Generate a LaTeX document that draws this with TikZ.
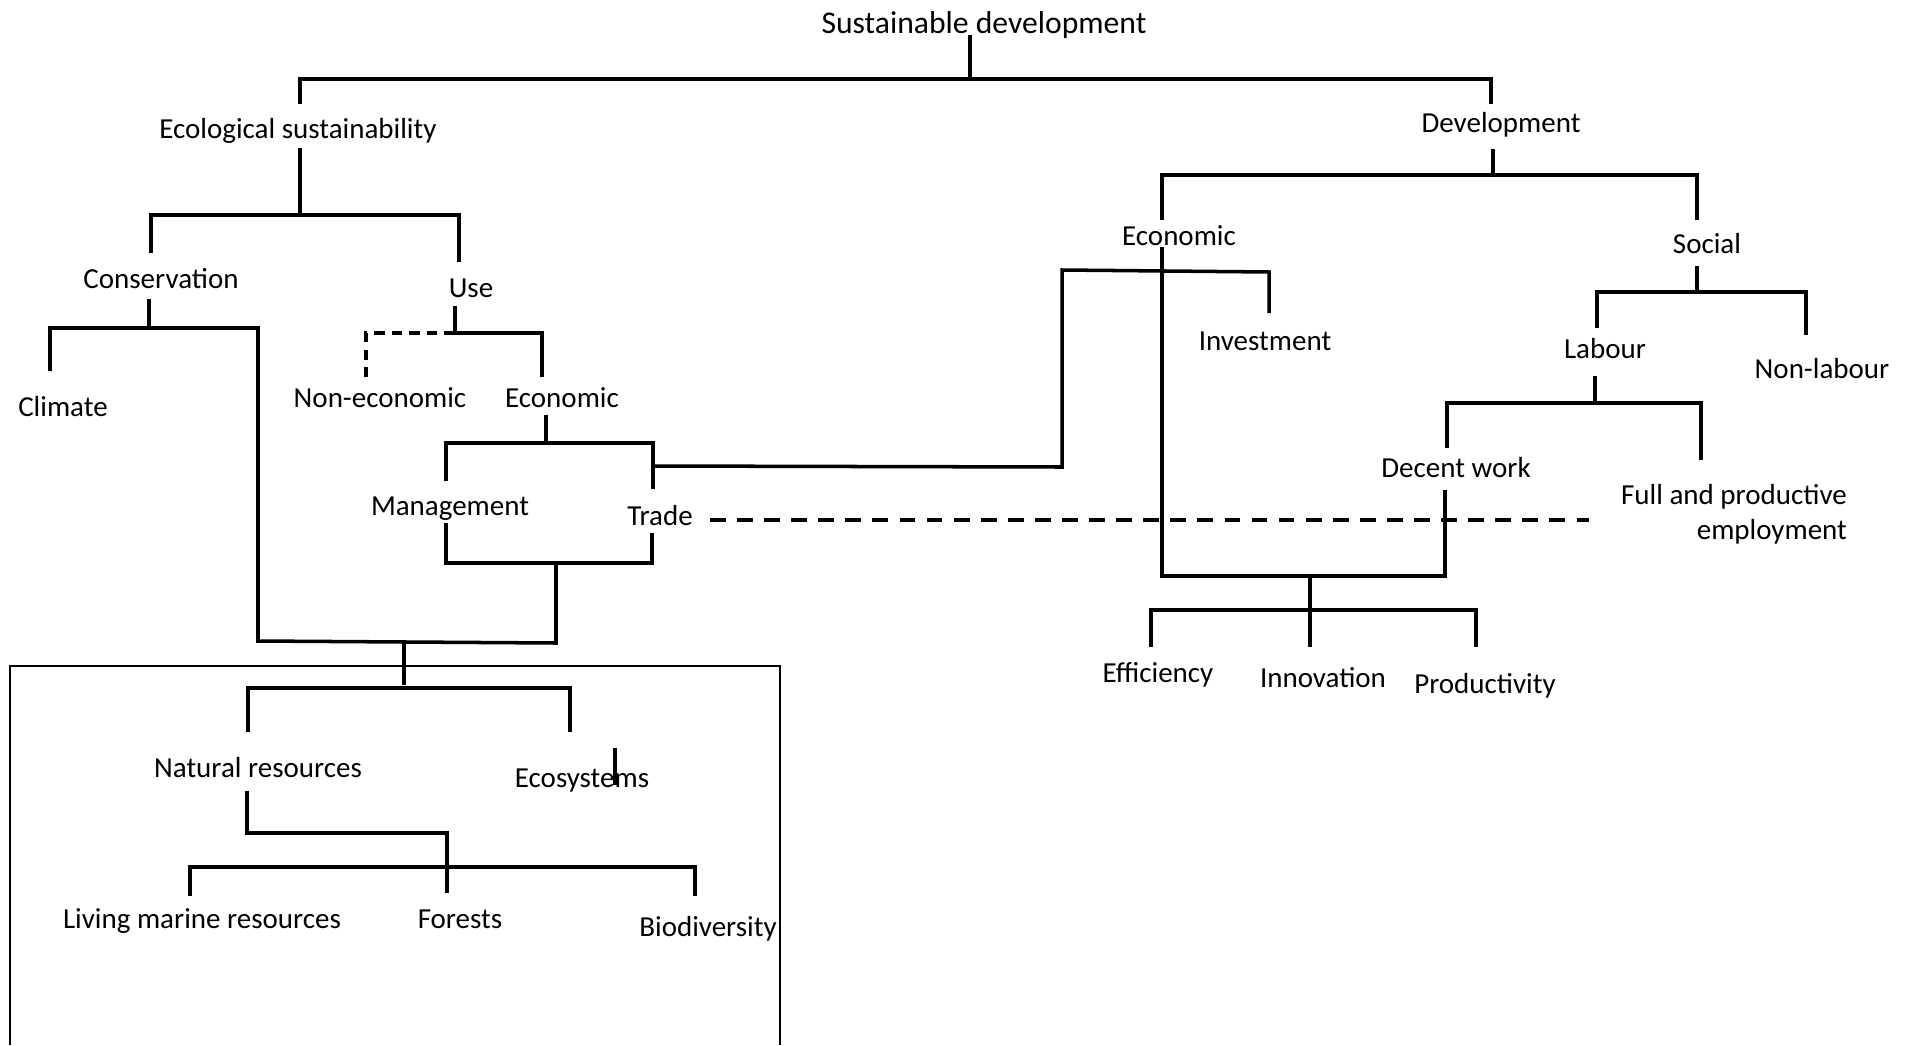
\documentclass[tikz,border=0pt]{standalone}
\usepackage{fontspec}
\setmainfont{Carlito}
\usepackage{tikz}

\begin{document}
\begin{tikzpicture}[x=0.01cm,y=-0.01cm,
    lbl/.style={inner sep=0pt,text height=1.5ex,text depth=.25ex,font=\fontsize{8.25}{10}\selectfont},
    link/.style={line width=1pt},
    dashlink/.style={line width=1pt,dash pattern=on 4.5pt off 3.2pt}]
        \useasboundingbox (0,0) rectangle (1909,1045);
        \node[lbl,font=\fontsize{9}{10}\selectfont] (root) at (984,23) {Sustainable development};
        \foreach \n/\x/\y/\t in {eco/298/128/Ecological sustainability, dev/1501/122/Development,
            cons/161/278/Conservation, use/471/287/Use, clim/63/406/Climate,
            noneco/380/397/Non-economic, ecoL/562/397/Economic, mgmt/450/505/Management,
            trade/660/515/Trade, natres/258/767/Natural resources, ecosys/582/777/Ecosystems,
            living/202/918/Living marine resources, forests/460/918/Forests, biodiv/708/926/Biodiversity,
            ecoR/1179/235/Economic, social/1707/243/Social, invest/1265/340/Investment,
            labour/1605/348/Labour, nonlab/1822/368/Non-labour, decent/1456/467/Decent work,
            eff/1158/672/Efficiency, innov/1323/677/Innovation, prod/1485/683/Productivity}{
            \node[lbl] (\n) at (\x,\y) {\t};
        }
        \node[inner sep=0pt,align=right,font=\fontsize{8.25}{10}\selectfont] (full) at (1734,514) {Full and productive\\employment};
        % brackets: left x / right x / bar y / left end / right end
        \foreach \l/\r/\b/\p/\q in {300/1491/79/104/104, 151/459/215/253/262, 446/653/443/481/489,
            248/570/688/732/732, 190/695/867/896/896, 1162/1697/175/220/220,
            1597/1806/292/328/335, 1447/1701/403/448/460, 1151/1476/610/647/647}{
            \draw[link](\l,\p)--(\l,\b)--(\r,\b)--(\r,\q);
        }
        \foreach \x/\p/\q in {970/35/79, 300/148/215, 149/299/328, 455/306/333, 546/415/443,
            404/641/685, 1493/149/175, 1697/266/292, 1595/376/403, 1310/576/647, 615/748/785}{
            \draw[link](\x,\p)--(\x,\q);
        }
        \draw[link](455,333)--(542,333)--(542,377);
        \draw[link, dash pattern=on 3pt off 2pt](455,333)--(366,333)--(366,377);
        \draw[link](50,371)--(50,328)--(258,328)--(258,641)--(556,643)--(556,563);
        \draw[link](446,523)--(446,563)--(652,563)--(652,533);
        \draw[link](653,466)--(1062,467)--(1062,270)--(1269,272)--(1269,313);
        \draw[link](1162,247)--(1162,576)--(1445,576)--(1445,490);
        \draw[link](247,791)--(247,833)--(447,833)--(447,893);
        \draw[dashlink](710,520)--(1589,520);
        \draw[line width=0.4pt](10,1045)--(10,666)--(780,666)--(780,1045);
    \end{tikzpicture}
\end{document}
